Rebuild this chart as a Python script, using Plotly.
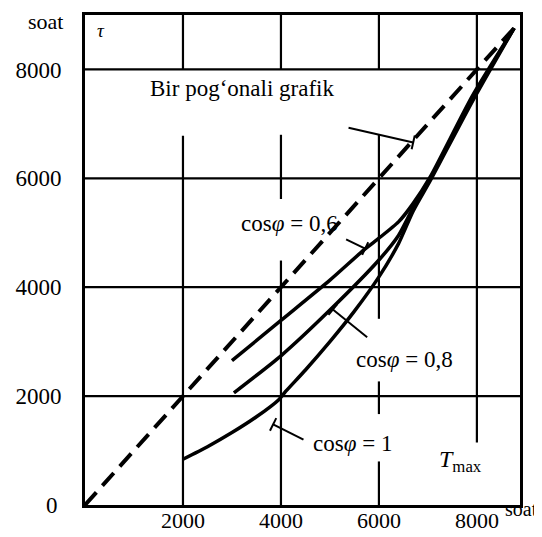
import plotly.graph_objects as go

# ---------------- data ----------------
# T_max (hours) on x, tau (hours) on y
single_step_x = [0, 8760]
single_step_y = [0, 8760]

cos06_x = [3000, 4000, 5000, 5700, 6000, 6400, 6700, 7050, 7900, 8760]
cos06_y = [2650, 3390, 4130, 4690, 4900, 5200, 5540, 6030, 7500, 8760]

cos08_x = [3040, 4000, 5000, 6000, 6400, 6700, 7050, 7900, 8760]
cos08_y = [2060, 2740, 3580, 4500, 4950, 5460, 5990, 7450, 8760]

cos1_x = [2000, 2500, 3000, 3500, 3950, 4100, 4500, 5000, 5500, 6000, 6400, 6700, 7050, 7900, 8760]
cos1_y = [840, 1070, 1330, 1620, 1930, 2090, 2480, 3000, 3560, 4190, 4800, 5400, 5960, 7400, 8760]

x_ticks = [2000, 4000, 6000, 8000]
x_tick_labels = ["2000", "4000", "6000", "8000"]
y_ticks = [2000, 4000, 6000, 8000]
y_tick_labels = ["2000", "4000", "6000", "8000"]
origin_label = "0"

X_MAX = 8880
Y_MAX = 9000

# vertical grid segments (x, y_from, y_to) - broken around labels as in the original
v_grid = [
    (2000, 0, 6780), (2000, 8000, Y_MAX),
    (4000, 0, 4490), (4000, 5620, 6800), (4000, 8000, Y_MAX),
    (6000, 0, 800), (6000, 1670, 2270), (6000, 3420, 6800), (6000, 8000, Y_MAX),
    (8000, 1150, Y_MAX),
]
h_grid = [2000, 4000, 6000, 8000]

# labels (text, x, y)
labels = [
    ("Bir pog\u2018onali grafik", 3200, 7650),
    ("cos<i>\u03c6</i> = 0,6", 4170, 5170),
    ("cos<i>\u03c6</i> = 0,8", 6530, 2680),
    ("cos<i>\u03c6</i> = 1", 5470, 1130),
]
# leader lines (x0, y0, x1, y1) : from text to curve
leaders = [
    (5380, 6930, 6700, 6660),
    (5330, 4880, 5720, 4710),
    (5760, 3080, 5060, 3590),
    (4460, 1200, 3840, 1480),
]

# ---------------- figure ----------------
W, H = 542, 537
PAGE = 8  # default body margin of the html page shifts the figure by 8 px
# wanted plot box in the screenshot: left 85, right 520, top 15, bottom 505
ML, MT = 85 - PAGE, 15 - PAGE
MR, MB = W - (520 - PAGE), H - (505 - PAGE)
px_x = (W - ML - MR) / X_MAX
px_y = (H - MT - MB) / Y_MAX

FONT = "Liberation Serif, Times New Roman, serif"
fig = go.Figure()

fig.add_trace(go.Scatter(x=single_step_x, y=single_step_y, mode="lines",
                         line=dict(color="black", width=4, dash="17px,9px"),
                         hoverinfo="skip", showlegend=False))
for xs, ys in [(cos06_x, cos06_y), (cos08_x, cos08_y), (cos1_x, cos1_y)]:
    fig.add_trace(go.Scatter(x=xs, y=ys, mode="lines",
                             line=dict(color="black", width=3.5, shape="spline", smoothing=0.6),
                             hoverinfo="skip", showlegend=False))

shapes = []
for gx, y0, y1 in v_grid:
    shapes.append(dict(type="line", xref="x", yref="y", x0=gx, x1=gx, y0=y0, y1=y1,
                       line=dict(color="black", width=2.2), layer="below"))
for gy in h_grid:
    shapes.append(dict(type="line", xref="x", yref="y", x0=0, x1=X_MAX, y0=gy, y1=gy,
                       line=dict(color="black", width=2.2), layer="below"))

# leaders with a small perpendicular tick at the curve end
for x0, y0, x1, y1 in leaders:
    shapes.append(dict(type="line", xref="x", yref="y", x0=x0, y0=y0, x1=x1, y1=y1,
                       line=dict(color="black", width=2)))
    dxp = (x1 - x0) * px_x
    dyp = (y1 - y0) * px_y
    n = (dxp ** 2 + dyp ** 2) ** 0.5
    perp_x, perp_y = -dyp / n * 7, dxp / n * 7
    shapes.append(dict(type="line", xref="x", yref="y",
                       x0=x1 - perp_x / px_x, y0=y1 - perp_y / px_y,
                       x1=x1 + perp_x / px_x, y1=y1 + perp_y / px_y,
                       line=dict(color="black", width=2)))

annotations = []
for txt, lx, ly in labels:
    annotations.append(dict(x=lx, y=ly, xref="x", yref="y", text=txt, showarrow=False,
                            font=dict(family=FONT, size=23, color="black")))
annotations += [
    dict(x=330, y=8720, xref="x", yref="y", text="<i>\u03c4</i>", showarrow=False,
         font=dict(family=FONT, size=19, color="black")),
    dict(x=7660, y=800, xref="x", yref="y", text="<i>T</i><sub>max</sub>", showarrow=False,
         font=dict(family=FONT, size=24, color="black")),
    dict(x=0, y=1, xref="paper", yref="paper", xshift=-40, yshift=-6, text="soat",
         showarrow=False, xanchor="center", yanchor="middle",
         font=dict(family=FONT, size=22, color="black")),
    dict(x=1, y=0, xref="paper", yref="paper", xshift=1, yshift=-4, text="soat",
         showarrow=False, xanchor="center", yanchor="middle",
         font=dict(family=FONT, size=20, color="black")),
    dict(x=0, y=0, xref="paper", yref="paper", xshift=-33, yshift=0, text=origin_label,
         showarrow=False, xanchor="center", yanchor="middle",
         font=dict(family=FONT, size=23, color="black")),
]

fig.update_layout(
    width=W, height=H,
    margin=dict(l=ML, r=MR, t=MT, b=MB),
    plot_bgcolor="white", paper_bgcolor="white",
    shapes=shapes, annotations=annotations,
    xaxis=dict(range=[0, X_MAX], tickvals=x_ticks, ticktext=x_tick_labels,
               showgrid=False, zeroline=False, showline=True, mirror=True,
               linecolor="black", linewidth=2.6, ticks="", automargin=False,
               ticklabelstandoff=-6,
               tickfont=dict(family=FONT, size=22, color="black")),
    yaxis=dict(range=[0, Y_MAX], tickvals=y_ticks, ticktext=y_tick_labels,
               showgrid=False, zeroline=False, showline=True, mirror=True,
               linecolor="black", linewidth=2.6, ticks="", ticklabelstandoff=16,
               automargin=False,
               tickfont=dict(family=FONT, size=23, color="black")),
)

fig.write_html("out.html")
